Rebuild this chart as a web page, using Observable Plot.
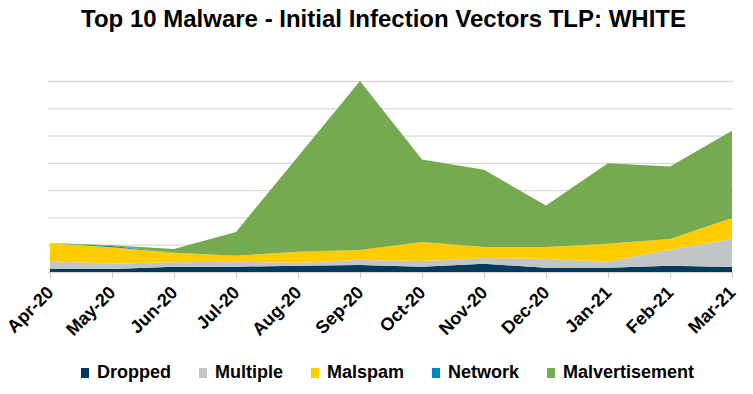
<!DOCTYPE html>
<html>
<head>
<meta charset="utf-8">
<script src="https://cdn.jsdelivr.net/npm/d3@7"></script>
<script src="https://cdn.jsdelivr.net/npm/@observablehq/plot@0.6"></script>
<style>
  body { margin: 0; background: #fff; width: 753px; height: 394px; overflow: hidden;
         font-family: "Liberation Sans", Arial, sans-serif; }
  #title { height: 45px; padding-top: 5px; text-align: center; font-weight: bold; font-size: 24px;
           color: #000; padding-left: 14px; box-sizing: border-box; white-space: nowrap; }
  #legend { display: flex; justify-content: center; align-items: center; gap: 28px; font-weight: bold;
            font-size: 18px; color: #000; padding-left: 22px; margin-top: 12px; }
  #legend .item { display: flex; align-items: center; gap: 8px; }
  #legend .sw { width: 8px; height: 10px; display: inline-block; }
</style>
</head>
<body>
<div id="title">Top 10 Malware - Initial Infection Vectors TLP: WHITE</div>
<div id="chart"></div>
<div id="legend"></div>
<script>
const months = ["Apr-20","May-20","Jun-20","Jul-20","Aug-20","Sep-20","Oct-20","Nov-20","Dec-20","Jan-21","Feb-21","Mar-21"];
const series = ["Dropped","Multiple","Malspam","Network","Malvertisement"];
const colors = ["#003a5d","#c1c5c8","#ffcc00","#0086c3","#75aa50"];

const dropped        = [0.55, 0.55, 0.97, 0.97, 1.16, 1.28, 0.97, 1.52, 0.79, 0.79, 1.16, 0.92];
const multiple       = [1.41, 0.97, 0.81, 0.92, 0.55, 0.92, 1.05, 1.05, 1.60, 1.10, 2.94, 5.14];
const malspam        = [3.36, 3.01, 1.76, 1.10, 2.02, 1.84, 3.49, 2.02, 2.20, 3.30, 1.96, 3.85];
const network        = [0.00, 0.24, 0.00, 0.00, 0.00, 0.00, 0.00, 0.00, 0.00, 0.00, 0.00, 0.00];
const malvertisement = [0.00, 0.13, 0.68, 4.35, 17.43, 30.96, 15.10, 14.13, 7.58, 14.75, 13.27, 15.97];
const gridTicks = [0, 5, 10, 15, 20, 25, 30, 35];

const valuesBySeries = [dropped, multiple, malspam, network, malvertisement];
const data = series.flatMap((s, i) => months.map((m, j) => ({month: m, series: s, value: valuesBySeries[i][j]})));

const chart = Plot.plot({
  width: 753,
  height: 305,
  marginTop: 36,
  marginBottom: 78,
  marginLeft: 48,
  marginRight: 20,
  style: {fontFamily: '"Liberation Sans", Arial, sans-serif', background: "#fff"},
  x: {type: "point", domain: months, padding: 0},
  y: {domain: [0, 35], axis: null},
  color: {domain: series, range: colors},
  marks: [
    Plot.gridY(gridTicks, {stroke: "#d9d9d9", strokeOpacity: 1, strokeWidth: 1.3}),
    Plot.areaY(data, {x: "month", y: "value", fill: "series", order: series}),
    Plot.axisX({tickRotate: -45, tickSize: 6, tickPadding: 11, stroke: "#c8c8c8", strokeOpacity: 1,
                fontSize: 18, fontWeight: "bold", fill: "#000", label: null})
  ]
});
document.getElementById("chart").appendChild(chart);

const legend = document.getElementById("legend");
series.forEach((s, i) => {
  const item = document.createElement("div");
  item.className = "item";
  const sw = document.createElement("span");
  sw.className = "sw";
  sw.style.background = colors[i];
  const t = document.createElement("span");
  t.textContent = s;
  item.appendChild(sw);
  item.appendChild(t);
  legend.appendChild(item);
});
</script>
</body>
</html>
